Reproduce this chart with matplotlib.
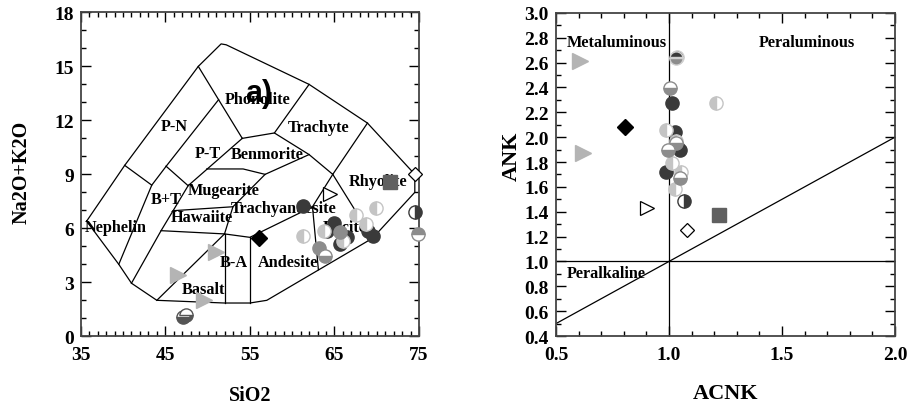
import matplotlib
matplotlib.use('Agg')
import matplotlib.pyplot as plt
from matplotlib.ticker import MultipleLocator, FixedLocator, FormatStrFormatter

plt.rcParams['font.family'] = ['Liberation Serif', 'DejaVu Serif']
plt.rcParams['font.weight'] = 'bold'
plt.rcParams['axes.labelweight'] = 'bold'

# --- TAS (Cox) template vertices: (SiO2, Na2O+K2O) ---
A = (35.7, 6.4); B = (40.2, 9.5); C = (48.9, 15.0); D = (51.6, 16.25)
E = (52.2, 16.2); F = (62.0, 14.0); G = (68.9, 11.85); H = (74.5, 9.0)
I = (74.5, 8.0); J = (69.5, 5.45); K = (57.0, 2.0); L = (55.0, 1.85)
M = (52.0, 1.85); N = (44.0, 2.0); O = (41.0, 2.95); P = (39.5, 4.0)
Q = (43.4, 8.4); T = (45.1, 9.45); S = (51.3, 13.15); R = (54.1, 11.0)
U = (57.9, 11.3); V = (62.0, 10.1); W = (64.8, 9.0); X = (62.4, 7.2)
Y = (63.1, 3.7); Z = (52.0, 5.69); Z2 = (55.0, 5.5); AA = (47.7, 8.37)
BH = (44.5, 5.87); HM = (45.9, 6.98); HM2 = (53.0, 7.2)
BM1 = (49.9, 9.3); BM2 = (54.2, 9.3); TA = (56.8, 9.0)

tas_lines = [
    [A, B, C, D, E, F, G, H, I, J, K, L, M, N, O, P, A],
    [B, Q, P], [T, Q], [C, S, R], [S, T], [R, U, F], [U, V, W, G],
    [W, J], [W, X, Y], [X, Z2, Z], [Z2, L], [Z, M], [N, Z],
    [O, BH, AA, R], [T, AA], [BH, Z], [HM, HM2], [Z, HM2, TA, V],
    [BM1, BM2, TA],
]

tas_names = ['Phonolite', 'P-N', 'Trachyte', 'P-T', 'Benmorite', 'Rhyolite',
             'Mugearite', 'B+T', 'Trachyandesite', 'Hawaiite', 'Nephelin',
             'Dacite', 'B-A', 'Andesite', 'Basalt']
tas_name_x = [55.95, 46.1, 63.1, 50.0, 57.0, 70.1, 51.95, 45.1, 59.0, 49.3,
              39.1, 66.2, 53.1, 59.55, 49.5]
tas_name_y = [13.2, 11.7, 11.65, 10.2, 10.13, 8.65, 8.13, 7.63, 7.13, 6.61,
              6.09, 6.09, 4.11, 4.11, 2.63]

sio2_ticks = [35, 45, 55, 65, 75]

# --- samples, left panel (SiO2, Na2O+K2O) ---
tas_samples = {
    'dark': ([61.3, 64.9, 64.1, 66.5, 65.6, 69.0, 69.6],
             [7.25, 6.3, 5.87, 5.5, 5.15, 5.87, 5.55]),
    'light_half': ([61.3, 63.8, 67.6, 68.7, 69.9, 66.0],
                   [5.55, 5.85, 6.72, 6.25, 7.15, 5.3]),
    'gray': ([65.7, 63.2], [5.8, 4.88]),
    'gray_bottom': ([63.9], [4.45]),
    'gray_top': ([74.9], [5.7]),
    'dark_right': ([74.5], [6.9]),
    'dark_bottom': ([47.1, 47.4], [1.05, 1.2]),
    'tri_gray': ([46.5, 51.0, 49.6], [3.4, 4.7, 2.02]),
    'tri_open': ([64.5], [7.9]),
    'dia_black': ([56.07], [5.46]),
    'dia_open': ([74.55], [9.0]),
    'square': ([71.6], [8.6]),
}

# --- samples, right panel (ACNK, ANK) ---
acnk_samples = {
    'dark': ([1.014, 1.026, 1.05, 0.985, 1.035],
             [2.276, 2.04, 1.9, 1.72, 1.93]),
    'light_half': ([1.21, 0.986, 1.014, 1.026, 1.055, 1.03],
                   [2.276, 2.054, 1.79, 1.585, 1.72, 1.97]),
    'gray_bottom': ([1.004, 0.997, 1.051, 1.03],
                    [2.394, 1.893, 1.675, 1.95]),
    'dark_right': ([1.066], [1.49]),
    'dark_top': ([1.036, 1.033], [2.645, 2.64]),
    'tri_gray': ([0.606, 0.618], [2.61, 1.874]),
    'tri_open': ([0.904], [1.43]),
    'dia_black': ([0.806], [2.086]),
    'dia_open': ([1.078], [1.25]),
    'square': ([1.222], [1.37]),
}

dark = '#3a3a3a'
gray = '#8c8c8c'
light = '#c4c4c4'
styles = {
    'dark': dict(marker='o', ms=9.5, mfc=dark, mec=dark),
    'light_half': dict(marker='o', ms=9.5, fillstyle='left', mfc=light,
                       mfcalt='white', mec=light),
    'gray': dict(marker='o', ms=9.5, mfc=gray, mec=gray),
    'gray_bottom': dict(marker='o', ms=9.5, fillstyle='bottom', mfc=gray,
                        mfcalt='white', mec=gray),
    'gray_top': dict(marker='o', ms=9.5, fillstyle='top', mfc=gray,
                     mfcalt='white', mec=gray),
    'dark_right': dict(marker='o', ms=9.5, fillstyle='right', mfc=dark,
                       mfcalt='white', mec=dark),
    'dark_bottom': dict(marker='o', ms=9.5, fillstyle='bottom', mfc='#555555',
                        mfcalt='white', mec='#555555'),
    'dark_top': dict(marker='o', ms=9.5, fillstyle='top', mfc=dark,
                     mfcalt=gray, mec='#d0d0d0'),
    'tri_gray': dict(marker='>', ms=11, mfc='#b4b4b4', mec='#b4b4b4'),
    'tri_open': dict(marker='>', ms=10, mfc='white', mec='black', mew=0.9),
    'dia_black': dict(marker='D', ms=8, mfc='black', mec='black'),
    'dia_open': dict(marker='D', ms=7.5, mfc='white', mec='black', mew=0.9),
    'square': dict(marker='s', ms=10, mfc='#606060', mec='#606060'),
}


def plot_samples(ax, samples):
    for key, (xs, ys) in samples.items():
        ax.plot(xs, ys, ls='none', clip_on=False, zorder=5, **styles[key])


def style_axes(ax):
    ax.tick_params(which='both', direction='in', top=True, right=True,
                   labelsize=14, width=1)
    ax.tick_params(which='major', length=7)
    ax.tick_params(which='minor', length=3.5)
    ax.tick_params(axis='x', pad=7)
    ax.tick_params(axis='y', pad=5)
    for sp in ax.spines.values():
        sp.set_linewidth(1.3)
        sp.set_color('#444444')


fig = plt.figure(figsize=(9.08, 4.10), dpi=100)

# ---------------- left: TAS ----------------
ax1 = fig.add_axes([0.0889, 0.1773, 0.3726, 0.790])
for line in tas_lines:
    xs = [p[0] for p in line]
    ys = [p[1] for p in line]
    ax1.plot(xs, ys, color='black', lw=0.9, zorder=2)
for name, x, y in zip(tas_names, tas_name_x, tas_name_y):
    ax1.text(x, y, name, ha='center', va='center', fontsize=11.7, zorder=3)
ax1.text(56.1, 13.5, 'a)', ha='center', va='center', fontsize=22,
         family='Liberation Sans', weight='bold', zorder=4)
plot_samples(ax1, tas_samples)
ax1.set_xlim(35, 75)
ax1.set_ylim(0, 18)
ax1.xaxis.set_major_locator(FixedLocator(sio2_ticks))
ax1.xaxis.set_minor_locator(MultipleLocator(1))
ax1.yaxis.set_major_locator(MultipleLocator(3))
ax1.yaxis.set_minor_locator(MultipleLocator(1))
style_axes(ax1)
ax1.set_xlabel('SiO2', fontsize=14.5)
ax1.set_ylabel('Na2O+K2O', fontsize=14.5)
ax1.xaxis.set_label_coords(0.5, -0.15)
ax1.yaxis.set_label_coords(-0.145, 0.51)

# ---------------- right: ACNK vs ANK ----------------
ax2 = fig.add_axes([0.6123, 0.178, 0.3733, 0.788])
ax2.axvline(1.0, color='black', lw=0.9, zorder=2)
ax2.axhline(1.0, color='black', lw=0.9, zorder=2)
ax2.plot([0.5, 2.0], [0.5, 2.0], color='black', lw=0.9, zorder=2)
ax2.text(0.771, 2.77, 'Metaluminous', ha='center', va='center', fontsize=11.7)
ax2.text(1.612, 2.77, 'Peraluminous', ha='center', va='center', fontsize=11.7)
ax2.text(0.724, 0.909, 'Peralkaline', ha='center', va='center', fontsize=11.7)
plot_samples(ax2, acnk_samples)
ax2.set_xlim(0.5, 2.0)
ax2.set_ylim(0.4, 3.0)
ax2.xaxis.set_major_locator(MultipleLocator(0.5))
ax2.xaxis.set_minor_locator(MultipleLocator(0.1))
ax2.yaxis.set_major_locator(MultipleLocator(0.2))
ax2.yaxis.set_minor_locator(MultipleLocator(0.1))
ax2.xaxis.set_major_formatter(FormatStrFormatter('%.1f'))
ax2.yaxis.set_major_formatter(FormatStrFormatter('%.1f'))
style_axes(ax2)
ax2.set_xlabel('ACNK', fontsize=16)
ax2.set_ylabel('ANK', fontsize=16)
ax2.xaxis.set_label_coords(0.5, -0.145)
ax2.yaxis.set_label_coords(-0.10, 0.56)

fig.savefig('out.png', dpi=100)
